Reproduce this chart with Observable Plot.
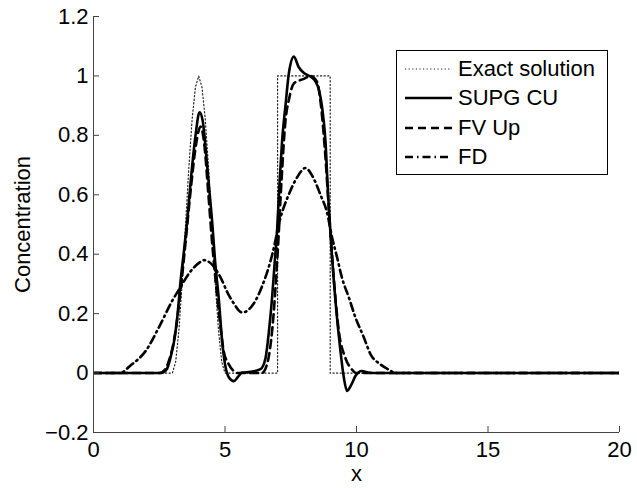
<!DOCTYPE html>
<html><head><meta charset="utf-8">
<script src="https://cdn.jsdelivr.net/npm/d3@7"></script>
<script src="https://cdn.jsdelivr.net/npm/@observablehq/plot@0.6"></script>
<style>
body{margin:0;background:#fff;}
#wrap{position:relative;width:637px;height:488px;font-family:"Liberation Sans",Arial,Helvetica,sans-serif;}
#legend{position:absolute;left:396px;top:50px;width:212px;height:125px;border:1px solid #000;background:#fff;box-sizing:border-box;padding-top:3px;}
.row{height:29.5px;display:flex;align-items:center;font-size:22px;color:#000;white-space:nowrap;}
.row svg{margin-left:8px;margin-right:6px;flex:none;}
</style>
</head><body>
<div id="wrap"></div>
<script>
// ---- data ----
const xTicks = [0, 5, 10, 15, 20];
const xTickLabels = ["0", "5", "10", "15", "20"];
const yTicks = [-0.2, 0, 0.2, 0.4, 0.6, 0.8, 1, 1.2];
const yTickLabels = ["\u22120.2", "0", "0.2", "0.4", "0.6", "0.8", "1", "1.2"];
const seriesNames = ["Exact solution", "SUPG CU", "FV Up", "FD"];

const exactX = [0, 2.9, 3, 3.125, 3.25, 3.375, 3.5, 3.625, 3.75, 3.875, 4, 4.125, 4.25, 4.375, 4.5, 4.625, 4.75, 4.875, 5, 7, 7, 9, 9, 20];
const exactY = [0, 0, 0, 0.038, 0.146, 0.309, 0.5, 0.691, 0.854, 0.962, 1, 0.962, 0.854, 0.691, 0.5, 0.309, 0.146, 0.038, 0, 0, 1, 1, 0, 0];

const supgX = [0, 2.5, 2.66, 2.8, 2.95, 3.05, 3.2, 3.3, 3.45, 3.57, 3.7, 3.88, 4.03, 4.15, 4.3, 4.4, 4.52, 4.62, 4.77, 4.89, 5.0, 5.15, 5.33, 5.5, 5.65, 5.97, 6.35, 6.54, 6.67, 6.79, 6.88, 6.98, 7.08, 7.17, 7.3, 7.43, 7.62, 7.8, 8.0, 8.25, 8.45, 8.57, 8.69, 8.82, 8.92, 9.01, 9.2, 9.39, 9.52, 9.64, 9.8, 9.96, 10.2, 10.5, 10.8, 20];
const supgY = [0, 0, 0.003, 0.015, 0.06, 0.1, 0.2, 0.3, 0.42, 0.52, 0.65, 0.8, 0.878, 0.85, 0.72, 0.62, 0.5, 0.38, 0.243, 0.108, 0.03, -0.015, -0.027, -0.012, 0.002, 0.004, 0.013, 0.05, 0.14, 0.254, 0.36, 0.48, 0.65, 0.78, 0.9, 1.01, 1.065, 1.03, 1.01, 0.998, 0.98, 0.953, 0.896, 0.78, 0.6, 0.47, 0.243, 0.074, -0.016, -0.06, -0.04, -0.01, 0.007, 0.001, 0, 0];

const fvX = [0, 2.5, 2.7, 2.9, 3.1, 3.3, 3.5, 3.7, 3.9, 4.07, 4.2, 4.37, 4.5, 4.7, 4.85, 4.95, 5.14, 5.33, 5.5, 6.4, 6.6, 6.8, 7.0, 7.15, 7.3, 7.43, 7.62, 8.0, 8.25, 8.5, 8.65, 8.8, 8.95, 9.1, 9.33, 9.58, 9.8, 10.0, 20];
const fvY = [0, 0, 0.01, 0.05, 0.13, 0.27, 0.44, 0.62, 0.77, 0.83, 0.78, 0.6, 0.45, 0.26, 0.14, 0.074, 0.03, 0.007, 0, 0, 0.03, 0.15, 0.4, 0.65, 0.85, 0.92, 0.975, 0.99, 1.0, 0.98, 0.9, 0.75, 0.55, 0.36, 0.14, 0.05, 0.015, 0, 0];

const fdX = [0, 1.0, 1.4, 1.98, 2.55, 2.99, 3.3, 3.62, 4.0, 4.2, 4.45, 4.83, 5.1, 5.33, 5.65, 5.85, 6.1, 6.4, 6.8, 7.1, 7.42, 7.75, 8.06, 8.31, 8.63, 8.88, 9.07, 9.26, 9.45, 9.71, 9.96, 10.28, 10.53, 10.9, 11.2, 11.5, 20];
const fdY = [0, 0, 0.025, 0.074, 0.165, 0.243, 0.288, 0.334, 0.37, 0.38, 0.37, 0.322, 0.27, 0.235, 0.204, 0.21, 0.235, 0.29, 0.40, 0.52, 0.60, 0.66, 0.69, 0.665, 0.60, 0.54, 0.457, 0.39, 0.32, 0.254, 0.187, 0.12, 0.064, 0.03, 0.013, 0, 0];

// ---- build ----
const toPts = (xs, ys) => xs.map((x, i) => ({x, y: ys[i]}));
const styles = [
  {stroke: "#222", strokeWidth: 1.2, strokeDasharray: "1.2,2.4", curve: "linear"},
  {stroke: "#000", strokeWidth: 2.6, strokeDasharray: null, curve: "monotone-x"},
  {stroke: "#000", strokeWidth: 2.6, strokeDasharray: "8,5", curve: "monotone-x"},
  {stroke: "#000", strokeWidth: 2.6, strokeDasharray: "8,4,1.5,4", curve: "monotone-x"}
];
const series = [toPts(exactX, exactY), toPts(supgX, supgY), toPts(fvX, fvY), toPts(fdX, fdY)];
const yLab = new Map(yTicks.map((t, i) => [t, yTickLabels[i]]));
const xLab = new Map(xTicks.map((t, i) => [t, xTickLabels[i]]));

const chart = Plot.plot({
  width: 637, height: 488,
  marginLeft: 93, marginRight: 18, marginTop: 16, marginBottom: 56,
  style: {fontFamily: '"Liberation Sans", Arial, Helvetica, sans-serif', fontSize: "22px", background: "#fff", color: "#000", overflow: "visible"},
  x: {domain: [0, 20]},
  y: {domain: [-0.2, 1.2]},
  marks: [
    ...series.map((d, i) => Plot.line(d, {x: "x", y: "y", stroke: styles[i].stroke, strokeWidth: styles[i].strokeWidth, strokeDasharray: styles[i].strokeDasharray, curve: styles[i].curve, clip: true})),
    Plot.ruleX([0], {stroke: "#444"}),
    Plot.ruleY([-0.2], {stroke: "#444"}),
    Plot.axisX({ticks: xTicks, tickFormat: d => xLab.get(d), tickSize: -6, tickPadding: 15, stroke: "#444", label: "x", labelAnchor: "center", labelOffset: 48, labelArrow: "none"}),
    Plot.axisY({ticks: yTicks, tickFormat: d => yLab.get(d), tickSize: -6, tickPadding: 11, stroke: "#444", label: "Concentration", labelAnchor: "center", labelOffset: 79, labelArrow: "none"})
  ]
});
const wrap = document.getElementById("wrap");
wrap.appendChild(chart);

// legend
const leg = document.createElement("div");
leg.id = "legend";
seriesNames.forEach((name, i) => {
  const row = document.createElement("div");
  row.className = "row";
  const s = styles[i];
  row.innerHTML = `<svg width="47" height="10"><line x1="0" y1="5" x2="47" y2="5" stroke="${s.stroke}" stroke-width="${s.strokeWidth}" ${s.strokeDasharray ? `stroke-dasharray="${s.strokeDasharray}"` : ""}/></svg><span>${name}</span>`;
  leg.appendChild(row);
});
wrap.appendChild(leg);
</script>
</body></html>
